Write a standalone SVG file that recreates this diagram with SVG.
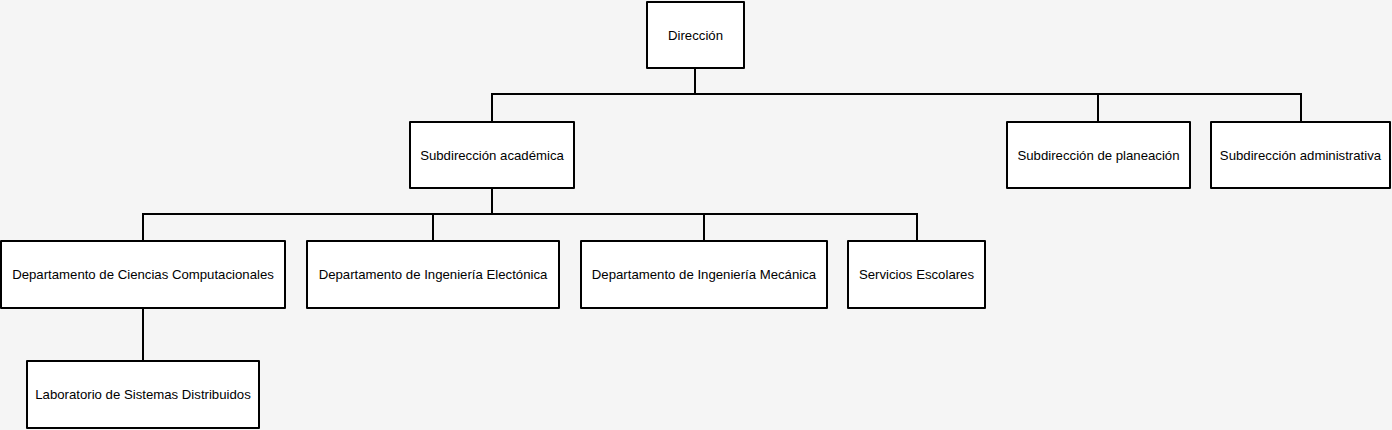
<svg xmlns="http://www.w3.org/2000/svg" width="1392" height="430" viewBox="0 0 1392 430">
<style>
.bg{fill:#f5f5f5}
.box{fill:#ffffff;stroke:#000000;stroke-width:2;stroke-linejoin:round}
.lbl{font-family:"Liberation Sans",Arial,sans-serif;font-size:13.2px;fill:#000000;text-anchor:middle;dominant-baseline:central}
.edge{fill:none;stroke:#000000;stroke-width:2;stroke-linejoin:miter}
</style>
<rect class="bg" x="0" y="0" width="1392" height="430"/>
<g id="connectors">
<path class="edge" d="M695,68 V94"/>
<path class="edge" d="M492,122 V94 H1301 V122"/>
<path class="edge" d="M1098,94 V122"/>
<path class="edge" d="M492,188 V214"/>
<path class="edge" d="M143,241 V214 H917 V241"/>
<path class="edge" d="M433,214 V241"/>
<path class="edge" d="M704,214 V241"/>
<path class="edge" d="M143,308 V361"/>
</g>
<g id="n-direccion">
<rect class="box" x="647" y="2" width="97" height="66"/>
<text class="lbl" x="695.5" y="35">Dirección</text>
</g>
<g id="n-sub-academica">
<rect class="box" x="410" y="122" width="164" height="66"/>
<text class="lbl" x="492" y="155">Subdirección académica</text>
</g>
<g id="n-sub-planeacion">
<rect class="box" x="1007" y="122" width="183" height="66"/>
<text class="lbl" x="1098.5" y="155">Subdirección de planeación</text>
</g>
<g id="n-sub-administrativa">
<rect class="box" x="1211" y="122" width="179" height="66"/>
<text class="lbl" x="1300.5" y="155">Subdirección administrativa</text>
</g>
<g id="n-dcc">
<rect class="box" x="1" y="241" width="284" height="67"/>
<text class="lbl" x="143" y="274.5">Departamento de Ciencias Computacionales</text>
</g>
<g id="n-die">
<rect class="box" x="307" y="241" width="252" height="67"/>
<text class="lbl" x="433" y="274.5">Departamento de Ingeniería Electónica</text>
</g>
<g id="n-dim">
<rect class="box" x="581" y="241" width="246" height="67"/>
<text class="lbl" x="704" y="274.5">Departamento de Ingeniería Mecánica</text>
</g>
<g id="n-servicios">
<rect class="box" x="848" y="241" width="137" height="67"/>
<text class="lbl" x="916.5" y="274.5">Servicios Escolares</text>
</g>
<g id="n-lab">
<rect class="box" x="27" y="361" width="232" height="67"/>
<text class="lbl" x="143" y="394.5">Laboratorio de Sistemas Distribuidos</text>
</g>
</svg>
